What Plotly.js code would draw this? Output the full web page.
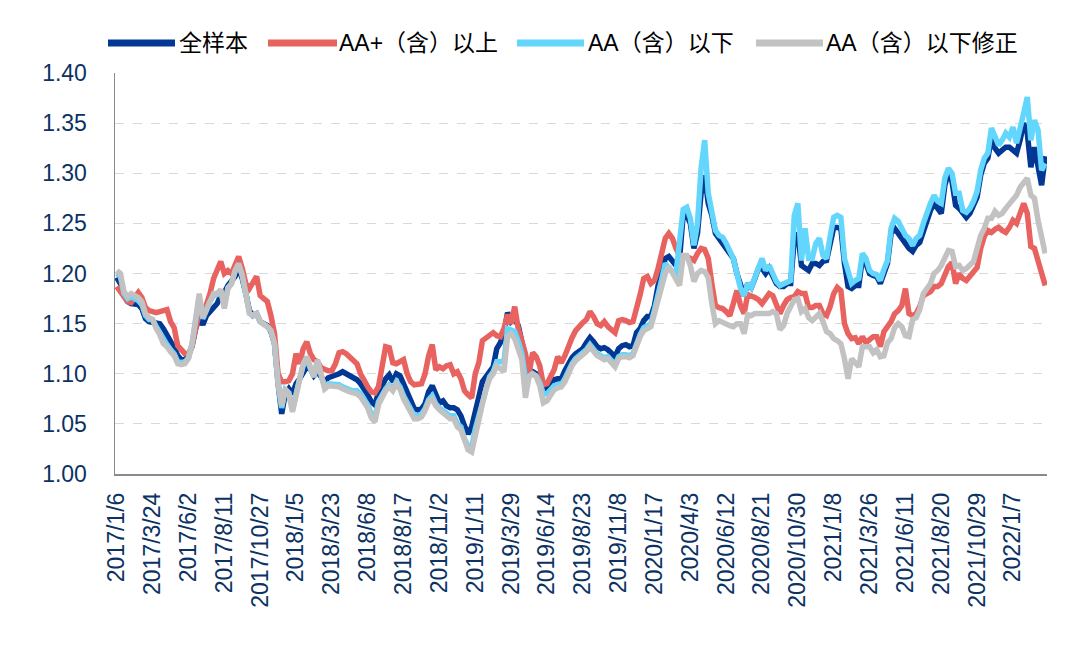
<!DOCTYPE html>
<html>
<head>
<meta charset="utf-8">
<script src="https://cdn.plot.ly/plotly-3.0.1.min.js"></script>
<style>
html,body{margin:0;padding:0;background:#fff;}
#chart{width:1080px;height:661px;}
</style>
</head>
<body>
<div id="chart"></div>
<script>
const dates = [
"2017/1/6","2017/1/13","2017/1/20","2017/2/3","2017/2/10","2017/2/17","2017/2/24","2017/3/3","2017/3/10","2017/3/17",
"2017/3/24","2017/3/31","2017/4/7","2017/4/14","2017/4/21","2017/4/28","2017/5/5","2017/5/12","2017/5/19","2017/5/26",
"2017/6/2","2017/6/9","2017/6/16","2017/6/23","2017/6/30","2017/7/7","2017/7/14","2017/7/21","2017/7/28","2017/8/4",
"2017/8/11","2017/8/18","2017/8/25","2017/9/1","2017/9/8","2017/9/15","2017/9/22","2017/9/29","2017/10/13","2017/10/20",
"2017/10/27","2017/11/3","2017/11/10","2017/11/17","2017/11/24","2017/12/1","2017/12/8","2017/12/15","2017/12/22","2017/12/29",
"2018/1/5","2018/1/12","2018/1/19","2018/1/26","2018/2/2","2018/2/9","2018/2/23","2018/3/2","2018/3/9","2018/3/16",
"2018/3/23","2018/3/30","2018/4/13","2018/4/20","2018/4/27","2018/5/4","2018/5/11","2018/5/18","2018/5/25","2018/6/1",
"2018/6/8","2018/6/15","2018/6/22","2018/6/29","2018/7/6","2018/7/13","2018/7/20","2018/7/27","2018/8/3","2018/8/10",
"2018/8/17","2018/8/24","2018/8/31","2018/9/7","2018/9/14","2018/9/21","2018/9/28","2018/10/12","2018/10/19","2018/10/26",
"2018/11/2","2018/11/9","2018/11/16","2018/11/23","2018/11/30","2018/12/7","2018/12/14","2018/12/21","2018/12/28","2019/1/4",
"2019/1/11","2019/1/18","2019/1/25","2019/2/1","2019/2/15","2019/2/22","2019/3/1","2019/3/8","2019/3/15","2019/3/22",
"2019/3/29","2019/4/5","2019/4/12","2019/4/19","2019/4/26","2019/5/3","2019/5/10","2019/5/17","2019/5/24","2019/5/31",
"2019/6/14","2019/6/21","2019/6/28","2019/7/5","2019/7/12","2019/7/19","2019/7/26","2019/8/2","2019/8/9","2019/8/16",
"2019/8/23","2019/8/30","2019/9/6","2019/9/13","2019/9/20","2019/9/27","2019/10/11","2019/10/18","2019/10/25","2019/11/1",
"2019/11/8","2019/11/15","2019/11/22","2019/11/29","2019/12/6","2019/12/13","2019/12/20","2019/12/27","2020/1/3","2020/1/10",
"2020/1/17","2020/1/24","2020/2/7","2020/2/14","2020/2/21","2020/2/28","2020/3/6","2020/3/13","2020/3/20","2020/3/27",
"2020/4/3","2020/4/10","2020/4/17","2020/4/24","2020/5/1","2020/5/8","2020/5/15","2020/5/22","2020/5/29","2020/6/5",
"2020/6/12","2020/6/19","2020/6/26","2020/7/3","2020/7/10","2020/7/17","2020/7/24","2020/7/31","2020/8/7","2020/8/14",
"2020/8/21","2020/8/28","2020/9/4","2020/9/11","2020/9/18","2020/9/25","2020/10/2","2020/10/9","2020/10/16","2020/10/23",
"2020/10/30","2020/11/6","2020/11/13","2020/11/20","2020/11/27","2020/12/4","2020/12/11","2020/12/18","2020/12/25","2021/1/1",
"2021/1/8","2021/1/15","2021/1/22","2021/1/29","2021/2/5","2021/2/19","2021/2/26","2021/3/5","2021/3/12","2021/3/19",
"2021/3/26","2021/4/9","2021/4/16","2021/4/23","2021/4/30","2021/5/7","2021/5/14","2021/5/21","2021/5/28","2021/6/4",
"2021/6/11","2021/6/18","2021/6/25","2021/7/2","2021/7/9","2021/7/16","2021/7/23","2021/7/30","2021/8/6","2021/8/13",
"2021/8/20","2021/8/27","2021/9/3","2021/9/10","2021/9/17","2021/9/24","2021/10/1","2021/10/8","2021/10/15","2021/10/22",
"2021/10/29","2021/11/5","2021/11/12","2021/11/19","2021/11/26","2021/12/3","2021/12/10","2021/12/17","2021/12/24","2021/12/31",
"2022/1/7","2022/1/14","2022/1/21","2022/1/28","2022/2/11","2022/2/18","2022/2/25","2022/3/4","2022/3/11","2022/3/18"
];

const tickLabels = ["2017/1/6","2017/3/24","2017/6/2","2017/8/11","2017/10/27","2018/1/5","2018/3/23","2018/6/8","2018/8/17","2018/11/2","2019/1/11","2019/3/29","2019/6/14","2019/8/23","2019/11/8","2020/1/17","2020/4/3","2020/6/12","2020/8/21","2020/10/30","2021/1/8","2021/3/26","2021/6/11","2021/8/20","2021/10/29","2022/1/7"];

const seriesNames = ["全样本","AA+（含）以上","AA（含）以下","AA（含）以下修正"];

const allSample = [
1.196,1.19,1.178,1.172,1.17,1.17,1.169,1.165,1.155,1.152,
1.151,1.151,1.15,1.145,1.139,1.133,1.126,1.118,1.114,1.114,
1.118,1.128,1.145,1.155,1.149,1.158,1.162,1.165,1.17,1.178,
1.181,1.188,1.192,1.197,1.205,1.195,1.18,1.163,1.158,1.16,
1.152,1.15,1.148,1.142,1.13,1.09,1.06,1.08,1.085,1.08,
1.09,1.095,1.1,1.107,1.105,1.098,1.102,1.096,1.092,1.096,
1.097,1.098,1.1,1.102,1.1,1.097,1.095,1.094,1.09,1.085,
1.079,1.072,1.069,1.081,1.088,1.095,1.099,1.092,1.1,1.098,
1.09,1.082,1.072,1.065,1.064,1.065,1.07,1.082,1.088,1.078,
1.071,1.073,1.068,1.066,1.066,1.064,1.058,1.048,1.04,1.047,
1.065,1.077,1.092,1.097,1.103,1.107,1.125,1.131,1.14,1.161,
1.152,1.155,1.148,1.131,1.117,1.1,1.102,1.1,1.095,1.083,
1.085,1.09,1.094,1.095,1.095,1.103,1.11,1.116,1.12,1.123,
1.125,1.131,1.136,1.132,1.127,1.125,1.126,1.124,1.12,1.117,
1.125,1.128,1.129,1.127,1.128,1.141,1.145,1.153,1.157,1.157,
1.168,1.188,1.2,1.215,1.217,1.213,1.208,1.215,1.258,1.258,
1.25,1.225,1.24,1.28,1.298,1.27,1.258,1.24,1.235,1.232,
1.226,1.22,1.215,1.2,1.188,1.178,1.19,1.186,1.195,1.205,
1.205,1.2,1.205,1.198,1.19,1.187,1.187,1.19,1.19,1.235,
1.24,1.208,1.205,1.203,1.21,1.21,1.208,1.212,1.213,1.23,
1.246,1.246,1.245,1.21,1.187,1.185,1.188,1.188,1.215,1.21,
1.2,1.198,1.197,1.19,1.2,1.21,1.24,1.245,1.24,1.235,
1.228,1.225,1.222,1.228,1.231,1.243,1.255,1.263,1.27,1.265,
1.26,1.288,1.3,1.292,1.268,1.265,1.26,1.256,1.26,1.268,
1.276,1.298,1.31,1.315,1.335,1.325,1.32,1.323,1.326,1.326,
1.322,1.32,1.333,1.35,1.34,1.306,1.326,1.31,1.288,1.317
];

const aaPlusAbove = [
1.187,1.182,1.176,1.172,1.171,1.175,1.181,1.176,1.166,1.163,
1.162,1.161,1.162,1.163,1.164,1.152,1.146,1.128,1.124,1.12,
1.12,1.127,1.145,1.16,1.158,1.168,1.18,1.195,1.205,1.212,
1.2,1.203,1.2,1.21,1.217,1.205,1.19,1.185,1.19,1.197,
1.178,1.175,1.172,1.158,1.14,1.1,1.092,1.092,1.093,1.1,
1.12,1.11,1.125,1.132,1.12,1.114,1.112,1.106,1.104,1.103,
1.103,1.11,1.121,1.122,1.12,1.116,1.113,1.11,1.1,1.093,
1.087,1.082,1.081,1.087,1.11,1.127,1.126,1.111,1.11,1.112,
1.114,1.1,1.092,1.089,1.089,1.09,1.1,1.118,1.129,1.104,
1.107,1.105,1.108,1.109,1.1,1.102,1.095,1.083,1.079,1.076,
1.1,1.111,1.133,1.136,1.139,1.141,1.138,1.137,1.145,1.159,
1.15,1.167,1.145,1.131,1.12,1.1,1.121,1.117,1.108,1.089,
1.09,1.097,1.104,1.117,1.111,1.118,1.128,1.136,1.143,1.148,
1.151,1.154,1.162,1.157,1.15,1.148,1.152,1.147,1.144,1.141,
1.153,1.154,1.153,1.151,1.152,1.164,1.179,1.195,1.197,1.19,
1.193,1.205,1.218,1.235,1.24,1.235,1.225,1.218,1.217,1.217,
1.215,1.213,1.22,1.225,1.224,1.215,1.19,1.168,1.166,1.165,
1.162,1.158,1.17,1.183,1.168,1.16,1.179,1.178,1.176,1.174,
1.17,1.175,1.18,1.178,1.17,1.16,1.168,1.174,1.176,1.177,
1.182,1.18,1.18,1.166,1.166,1.168,1.168,1.16,1.158,1.167,
1.18,1.186,1.183,1.15,1.14,1.135,1.136,1.13,1.137,1.131,
1.134,1.137,1.137,1.127,1.142,1.147,1.152,1.16,1.163,1.168,
1.185,1.16,1.158,1.16,1.167,1.178,1.18,1.182,1.187,1.187,
1.19,1.2,1.207,1.211,1.19,1.2,1.195,1.193,1.198,1.203,
1.206,1.225,1.237,1.243,1.241,1.244,1.246,1.243,1.241,1.246,
1.253,1.25,1.261,1.27,1.26,1.227,1.225,1.213,1.2,1.188
];

const aaBelow = [
1.2,1.197,1.18,1.175,1.177,1.175,1.173,1.169,1.158,1.154,
1.154,1.147,1.141,1.133,1.129,1.124,1.12,1.112,1.111,1.112,
1.116,1.13,1.157,1.176,1.155,1.164,1.172,1.178,1.179,1.183,
1.168,1.186,1.19,1.202,1.209,1.198,1.18,1.161,1.158,1.16,
1.152,1.15,1.147,1.143,1.13,1.09,1.066,1.084,1.081,1.064,
1.082,1.095,1.108,1.115,1.105,1.097,1.112,1.099,1.086,1.09,
1.09,1.089,1.089,1.087,1.085,1.084,1.083,1.083,1.08,1.075,
1.069,1.06,1.056,1.072,1.079,1.085,1.089,1.085,1.092,1.087,
1.078,1.071,1.064,1.058,1.058,1.06,1.065,1.074,1.078,1.07,
1.066,1.063,1.06,1.058,1.058,1.05,1.047,1.035,1.028,1.026,
1.045,1.058,1.074,1.088,1.097,1.102,1.112,1.112,1.112,1.145,
1.144,1.142,1.132,1.12,1.095,1.098,1.1,1.098,1.091,1.08,
1.08,1.084,1.088,1.089,1.089,1.095,1.104,1.11,1.115,1.118,
1.12,1.124,1.129,1.124,1.12,1.118,1.116,1.117,1.112,1.109,
1.117,1.119,1.119,1.118,1.12,1.131,1.139,1.146,1.148,1.15,
1.164,1.182,1.194,1.21,1.205,1.202,1.2,1.23,1.264,1.266,
1.255,1.228,1.25,1.305,1.333,1.28,1.26,1.243,1.238,1.236,
1.23,1.222,1.215,1.2,1.185,1.178,1.19,1.186,1.196,1.208,
1.215,1.203,1.208,1.2,1.192,1.188,1.19,1.192,1.193,1.258,
1.27,1.213,1.245,1.215,1.215,1.23,1.235,1.218,1.215,1.237,
1.256,1.258,1.256,1.215,1.2,1.19,1.193,1.195,1.22,1.215,
1.203,1.2,1.199,1.193,1.204,1.213,1.245,1.255,1.252,1.245,
1.238,1.235,1.228,1.235,1.238,1.25,1.262,1.27,1.278,1.272,
1.27,1.295,1.305,1.3,1.28,1.28,1.263,1.261,1.265,1.272,
1.282,1.303,1.315,1.32,1.345,1.335,1.328,1.333,1.34,1.336,
1.346,1.33,1.343,1.36,1.376,1.333,1.353,1.343,1.303,1.31
];

const aaBelowAdj = [
1.203,1.2,1.182,1.177,1.18,1.178,1.176,1.172,1.16,1.156,
1.154,1.145,1.139,1.13,1.127,1.122,1.118,1.11,1.109,1.11,
1.115,1.13,1.16,1.18,1.156,1.165,1.174,1.18,1.18,1.184,
1.165,1.185,1.19,1.203,1.21,1.198,1.18,1.16,1.158,1.16,
1.152,1.15,1.147,1.143,1.13,1.09,1.068,1.085,1.08,1.062,
1.08,1.095,1.11,1.117,1.105,1.097,1.114,1.1,1.085,1.088,
1.088,1.087,1.087,1.085,1.083,1.082,1.081,1.08,1.077,1.072,
1.066,1.056,1.052,1.069,1.077,1.083,1.087,1.083,1.09,1.085,
1.075,1.069,1.062,1.055,1.055,1.057,1.063,1.072,1.075,1.068,
1.064,1.061,1.058,1.055,1.055,1.047,1.044,1.032,1.024,1.022,
1.04,1.054,1.07,1.085,1.095,1.1,1.108,1.105,1.102,1.137,
1.14,1.135,1.122,1.114,1.076,1.097,1.1,1.097,1.088,1.071,
1.073,1.078,1.084,1.086,1.087,1.092,1.102,1.108,1.113,1.116,
1.118,1.122,1.127,1.122,1.118,1.116,1.114,1.115,1.11,1.107,
1.115,1.117,1.117,1.116,1.118,1.129,1.137,1.143,1.145,1.147,
1.16,1.175,1.187,1.2,1.207,1.2,1.193,1.188,1.218,1.218,
1.208,1.192,1.2,1.203,1.202,1.196,1.17,1.15,1.153,1.151,
1.15,1.148,1.147,1.15,1.15,1.14,1.159,1.158,1.16,1.16,
1.16,1.161,1.16,1.162,1.16,1.144,1.148,1.16,1.168,1.174,
1.175,1.162,1.165,1.156,1.153,1.156,1.16,1.152,1.142,1.14,
1.135,1.133,1.13,1.115,1.095,1.115,1.11,1.107,1.127,1.127,
1.127,1.121,1.124,1.117,1.118,1.131,1.135,1.146,1.15,1.147,
1.138,1.137,1.154,1.156,1.164,1.18,1.185,1.19,1.2,1.203,
1.208,1.215,1.223,1.222,1.207,1.208,1.203,1.205,1.208,1.212,
1.225,1.238,1.245,1.255,1.255,1.262,1.258,1.26,1.265,1.27,
1.273,1.278,1.286,1.29,1.295,1.278,1.275,1.253,1.237,1.22
];

const colors = ["#023793","#e8625f","#63d6fd","#c2c2c2"];
const seriesData = [allSample, aaPlusAbove, aaBelow, aaBelowAdj];

const traces = seriesData.map((ys, k) => ({
  type: "scatter",
  mode: "lines",
  x: dates,
  y: ys,
  name: seriesNames[k],
  line: {color: colors[k], width: 5.5, shape: "linear"},
  hoverinfo: "x+y+name",
  showlegend: false
}));

const M = {l: 115, r: 33, t: 73, b: 187};
const W = 1080, H = 661;
const pw = W - M.l - M.r, ph = H - M.t - M.b;
const px = x => (x - M.l) / pw;
const py = y => (H - M.b - y) / ph;

const legendItems = [
  {x0: 108, x1: 175, tx: 177},
  {x0: 268, x1: 337, tx: 337},
  {x0: 517, x1: 584, tx: 586},
  {x0: 756, x1: 823, tx: 824}
];
const legY = 43;
const shapes = legendItems.map((it, k) => ({
  type: "line", xref: "paper", yref: "paper",
  x0: px(it.x0), x1: px(it.x1), y0: py(legY), y1: py(legY),
  line: {color: colors[k], width: 7}
}));
const annotations = legendItems.map((it, k) => ({
  xref: "paper", yref: "paper", x: px(it.tx), y: py(legY),
  xanchor: "left", yanchor: "middle", showarrow: false,
  text: seriesNames[k],
  font: {family: "Liberation Sans, Arial, Noto Sans CJK SC, sans-serif", size: 23, color: "#000000"}
}));

const tickFont = {family: "Liberation Sans, Arial, sans-serif", size: 23, color: "#0b3263"};

const layout = {
  width: W, height: H,
  margin: M,
  paper_bgcolor: "#ffffff",
  plot_bgcolor: "#ffffff",
  showlegend: false,
  xaxis: {
    type: "category",
    range: [-0.5, dates.length - 0.5],
    tickmode: "array",
    tickvals: tickLabels,
    ticktext: tickLabels,
    tickangle: -90,
    tickfont: tickFont,
    ticks: "",
    ticklabelstandoff: 8,
    showgrid: false,
    showline: true,
    linecolor: "#8a8a8a",
    linewidth: 1.5,
    zeroline: false
  },
  yaxis: {
    range: [1.0, 1.4],
    tickmode: "array",
    tickvals: [1.0,1.05,1.1,1.15,1.2,1.25,1.3,1.35,1.4],
    tickformat: ".2f",
    tickfont: tickFont,
    ticks: "",
    ticklabelstandoff: 22,
    showgrid: true,
    gridcolor: "#d9d9d9",
    gridwidth: 1,
    griddash: "dash",
    showline: true,
    linecolor: "#8a8a8a",
    linewidth: 1.5,
    zeroline: false
  },
  shapes: shapes,
  annotations: annotations
};

Plotly.newPlot("chart", traces, layout, {displayModeBar: false, staticPlot: true});
</script>
</body>
</html>
